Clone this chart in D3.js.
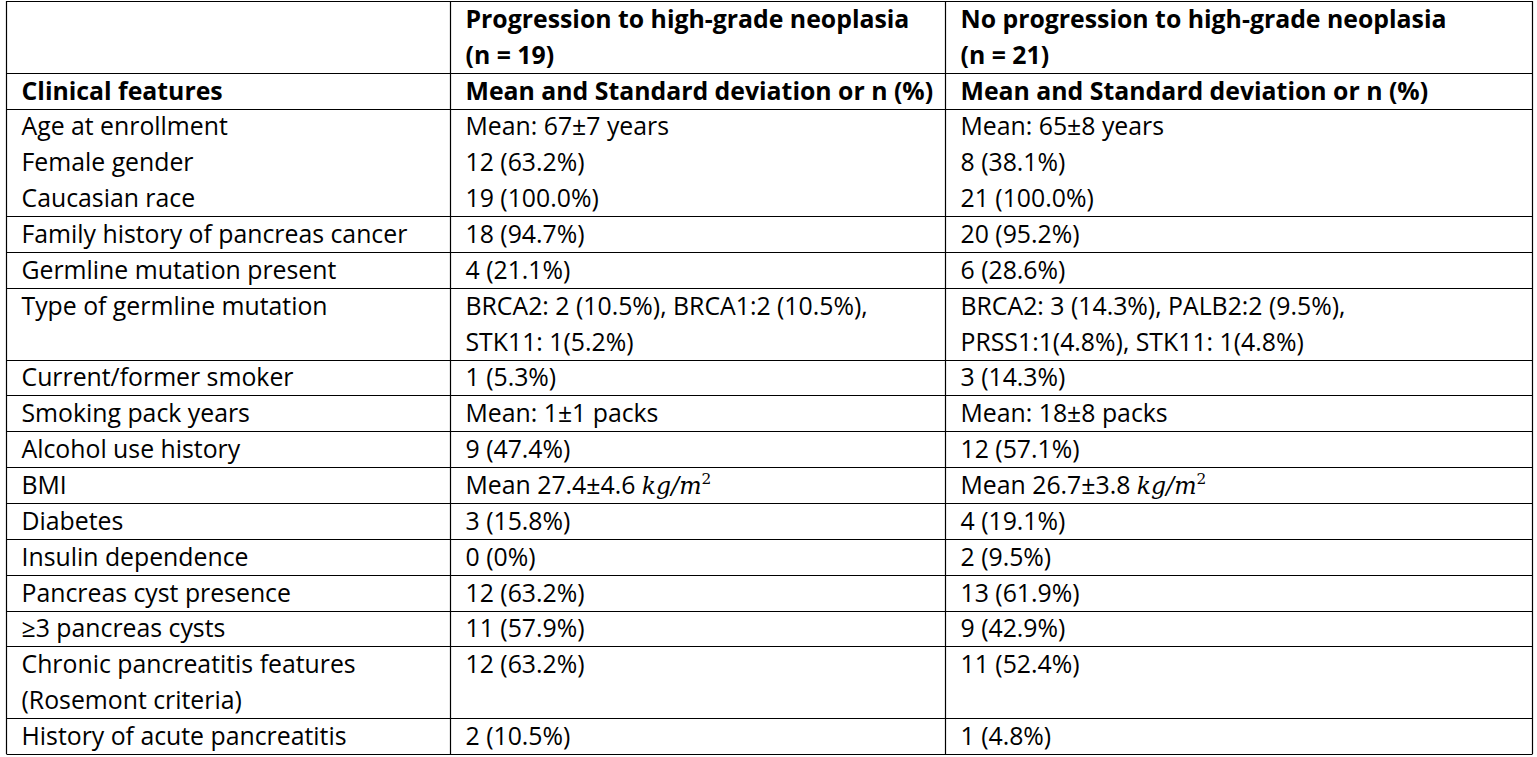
<!DOCTYPE html>
<html>
<head>
<meta charset="utf-8">
<script src="https://cdn.jsdelivr.net/npm/d3@7"></script>
<style>
  body { margin: 0; background: #fff; }
  svg { display: block; }
</style>
</head>
<body>
<svg id="chart" width="1537" height="757"></svg>
<script>
// Table content, one entry per row; multi-line cells are arrays of lines
const headerLines = [
  ['', 'Progression to high-grade neoplasia', 'No progression to high-grade neoplasia'],
  ['', '(n = 19)', '(n = 21)']
];
const subHeader = ['Clinical features', 'Mean and Standard deviation or n (%)', 'Mean and Standard deviation or n (%)'];

const features = [
  ['Age at enrollment', 'Female gender', 'Caucasian race'],
  ['Family history of pancreas cancer'],
  ['Germline mutation present'],
  ['Type of germline mutation'],
  ['Current/former smoker'],
  ['Smoking pack years'],
  ['Alcohol use history'],
  ['BMI'],
  ['Diabetes'],
  ['Insulin dependence'],
  ['Pancreas cyst presence'],
  ['\u22653 pancreas cysts'],
  ['Chronic pancreatitis features', '(Rosemont criteria)'],
  ['History of acute pancreatitis']
];
const progression = [
  ['Mean: 67\u00b17 years', '12 (63.2%)', '19 (100.0%)'],
  ['18 (94.7%)'],
  ['4 (21.1%)'],
  ['BRCA2: 2 (10.5%), BRCA1:2 (10.5%),', 'STK11: 1(5.2%)'],
  ['1 (5.3%)'],
  ['Mean: 1\u00b11 packs'],
  ['9 (47.4%)'],
  ['Mean 27.4\u00b14.6 |kg/m|2'],
  ['3 (15.8%)'],
  ['0 (0%)'],
  ['12 (63.2%)'],
  ['11 (57.9%)'],
  ['12 (63.2%)'],
  ['2 (10.5%)']
];
const noProgression = [
  ['Mean: 65\u00b18 years', '8 (38.1%)', '21 (100.0%)'],
  ['20 (95.2%)'],
  ['6 (28.6%)'],
  ['BRCA2: 3 (14.3%), PALB2:2 (9.5%),', 'PRSS1:1(4.8%), STK11: 1(4.8%)'],
  ['3 (14.3%)'],
  ['Mean: 18\u00b18 packs'],
  ['12 (57.1%)'],
  ['Mean 26.7\u00b13.8 |kg/m|2'],
  ['4 (19.1%)'],
  ['2 (9.5%)'],
  ['13 (61.9%)'],
  ['9 (42.9%)'],
  ['11 (52.4%)'],
  ['1 (4.8%)']
];

const svg = d3.select('#chart');
const colEdges = [6.5, 450.5, 945.5, 1532.5];
const textPad = 15;
const tableTop = 1, tableBottom = 754;
const fontFamily = 'Open Sans, sans-serif';

// build row blocks
const rows = [];
rows.push({ cells: [0, 1, 2].map(c => headerLines.map(l => l[c])), bold: true });
rows.push({ cells: subHeader.map(s => [s]), bold: true });
features.forEach((f, i) => {
  rows.push({ cells: [f, progression[i], noProgression[i]], bold: false });
});
rows.forEach(r => { r.n = d3.max(r.cells, c => c.length); });
const totalLines = d3.sum(rows, r => r.n);

const y = d3.scaleLinear().domain([0, totalLines]).range([tableTop, tableBottom]);
const lineH = y(1) - y(0);

// fit font size to reference text width
const probe = svg.append('text').attr('font-family', fontFamily).attr('font-size', 20)
  .text('Family history of pancreas cancer');
const w = probe.node().getComputedTextLength();
probe.remove();
const fontSize = 20 * 386 / w;

let cursor = 0;
rows.forEach(r => { r.start = cursor; cursor += r.n; });

const g = svg.append('g');

rows.forEach(r => {
  r.cells.forEach((lines, c) => {
    lines.forEach((line, li) => {
      const t = g.append('text')
        .attr('x', colEdges[c] + textPad)
        .attr('y', y(r.start + li) + lineH * 0.75)
        .attr('font-family', fontFamily)
        .attr('font-size', fontSize)
        .attr('font-weight', r.bold ? 'bold' : 'normal')
        .attr('fill', '#000');
      if (line.includes('|')) {
        const [pre, unit, sup] = line.split('|');
        t.append('tspan').text(pre + ' ');
        t.append('tspan').attr('font-family', 'DejaVu Serif, serif').attr('font-style', 'italic')
          .attr('font-size', fontSize * 0.95).text(unit);
        t.append('tspan').attr('font-family', 'DejaVu Serif, serif')
          .attr('font-size', fontSize * 0.62).attr('dy', -fontSize * 0.42).text(sup);
      } else {
        t.text(line);
      }
    });
  });
});

// grid lines
const hLines = rows.map(r => y(r.start)).concat([y(totalLines)]);
g.selectAll('line.h').data(hLines).enter().append('line')
  .attr('x1', colEdges[0]).attr('x2', colEdges[3])
  .attr('y1', d => Math.round(d) + 0.5).attr('y2', d => Math.round(d) + 0.5)
  .attr('stroke', '#000').attr('stroke-width', 1.2);
g.selectAll('line.v').data(colEdges).enter().append('line')
  .attr('x1', d => d).attr('x2', d => d)
  .attr('y1', y(0)).attr('y2', y(totalLines))
  .attr('stroke', '#000').attr('stroke-width', 1.2);
</script>
</body>
</html>
